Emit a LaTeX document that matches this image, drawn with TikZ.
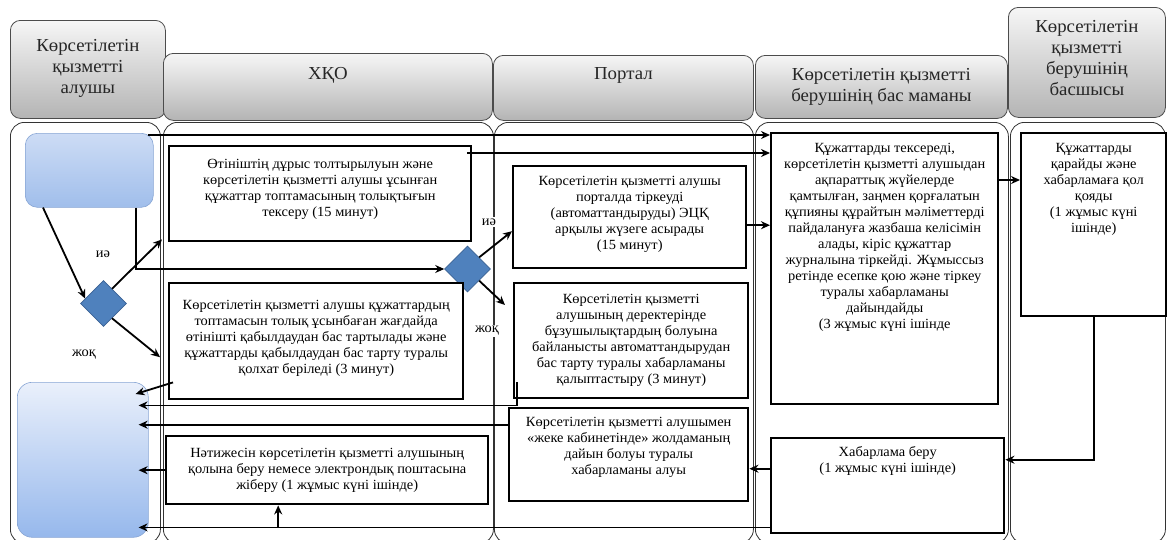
\documentclass[tikz,border=0pt]{standalone}
\usepackage{fontspec}
\setmainfont{Liberation Serif}[FakeStretch=1.03]
\newfontfamily\kzfont{Liberation Serif}[FakeStretch=1.03]
\usetikzlibrary{shapes.geometric,arrows.meta}
\definecolor{usrtop}{RGB}{205,220,245}
\definecolor{usrbot}{RGB}{160,190,235}
\definecolor{outtop}{RGB}{234,240,251}
\definecolor{outbot}{RGB}{150,184,236}
\definecolor{usredge}{RGB}{135,165,212}
\definecolor{qfill}{RGB}{79,129,189}
\definecolor{qedge}{RGB}{58,98,148}
\definecolor{hdrtop}{RGB}{246,246,246}
\definecolor{hdrbot}{RGB}{180,180,180}
\newcommand{\bodyfont}{\kzfont\fontsize{14pt}{16pt}\selectfont}
\newcommand{\hdrfont}{\kzfont\fontsize{18.3pt}{21pt}\selectfont}

\begin{document}
\begin{tikzpicture}[
      x=1pt, y=-1pt,
      lane/.style={draw=black!80, line width=0.8pt, rounded corners=14pt, anchor=north west, inner sep=0pt},
      hdr/.style={draw=black!70, line width=0.8pt, rounded corners=10pt, top color=hdrtop, bottom color=hdrbot, anchor=north west, inner sep=0pt},
      box/.style={draw=black, line width=2.4pt, fill=white, anchor=north west, inner sep=0pt},
      usr/.style={draw=usredge, line width=0.6pt, rounded corners=12pt, anchor=north west, inner sep=0pt},
      decision/.style={diamond, draw=qedge, line width=0.6pt, fill=qfill, minimum width=46pt, minimum height=46pt, inner sep=0pt},
      note/.style={font=\bodyfont, align=center, inner sep=0pt},
      hnote/.style={font=\hdrfont, align=center, inner sep=0pt, text=black!85},
      yn/.style={font=\bodyfont, fill=white, inner sep=1.5pt},
      arrow/.style={-{Stealth[length=9pt,width=8pt]}, line width=1.8pt},
      into/.style={shorten >=-10pt}
    ]
      \useasboundingbox (0,0) rectangle (1167,539);

      % Swimlanes
      \node[lane, minimum width=150pt, minimum height=421pt] (ln1) at (10,122) {};
      \node[lane, minimum width=330pt, minimum height=421pt] (ln2) at (163,122) {};
      \node[lane, minimum width=259pt, minimum height=421pt] (ln3) at (494,122) {};
      \node[lane, minimum width=253pt, minimum height=421pt] (ln4) at (755,122) {};
      \node[lane, minimum width=155pt, minimum height=421pt] (ln5) at (1010,122) {};

      % Lane headers
      \node[hdr, minimum width=155pt, minimum height=98pt] (h1) at (10,20) {};
      \node[hnote] (h1-t) at ([yshift=1pt]h1.center) {Көрсетілетін\\қызметті\\алушы};
      \node[hdr, minimum width=329pt, minimum height=67pt] (h2) at (163,53) {};
      \node[hnote] (h2-t) at ([yshift=11.5pt]h2.center) {ХҚО};
      \node[hdr, minimum width=260pt, minimum height=65pt] (h3) at (493,55) {};
      \node[hnote] (h3-t) at ([yshift=12.5pt]h3.center) {Портал};
      \node[hdr, minimum width=252pt, minimum height=63pt] (h4) at (755,55) {};
      \node[hnote] (h4-t) at ([yshift=0pt]h4.center) {Көрсетілетін қызметті\\берушінің бас маманы};
      \node[hdr, minimum width=157pt, minimum height=110pt] (h5) at (1008,7) {};
      \node[hnote] (h5-t) at ([yshift=4pt]h5.center) {Көрсетілетін\\қызметті\\берушінің\\басшысы};

      % Service receiver
      \node[usr, top color=usrtop, bottom color=usrbot, minimum width=128pt, minimum height=74pt] (app) at (25,133) {};
      \node[usr, rounded corners=15pt, top color=outtop, bottom color=outbot, minimum width=131pt, minimum height=155pt] (out) at (17,382) {};
      \node[decision] (q1) at (103.5,303.5) {};
      \node[decision] (q2) at (467.5,269) {};

      % ХҚО
      \node[box, minimum width=302pt, minimum height=95pt] (chk) at (168,145) {};
      \node[note] (chk-t) at ([yshift=4.5pt]chk.center) {Өтініштің дұрыс толтырылуын және\\көрсетілетін қызметті алушы ұсынған\\құжаттар топтамасының  толықтығын\\тексеру (15 минут)};
      \node[box, minimum width=294pt, minimum height=116pt] (rej) at (168,282) {};
      \node[note] (rej-t) at ([yshift=3pt]rej.center) {Көрсетілетін қызметті алушы құжаттардың\\топтамасын толық ұсынбаған жағдайда\\өтінішті қабылдаудан бас тартылады және\\құжаттарды қабылдаудан бас тарту туралы\\қолхат беріледі (3 минут)};
      \node[box, minimum width=322pt, minimum height=68pt] (res) at (165,435) {};
      \node[note] (res-t) at (res.center) {Нәтижесін көрсетілетін қызметті алушының\\қолына беру немесе электрондық поштасына\\жіберу (1 жұмыс күні ішінде)};

      % Портал
      \node[box, minimum width=233pt, minimum height=102pt] (reg) at (512,165) {};
      \node[note] (reg-t) at ([yshift=3pt]reg.center) {Көрсетілетін қызметті  алушы\\порталда тіркеуді\\(автоматтандыруды) ЭЦҚ\\арқылы жүзеге асырады\\(15  минут)};
      \node[box, minimum width=234pt, minimum height=115pt] (err) at (513,282) {};
      \node[note] (err-t) at (err.center) {Көрсетілетін  қызметті\\алушының деректерінде\\бұзушылықтардың  болуына\\байланысты автоматтандырудан\\бас  тарту туралы хабарламаны\\қалыптастыру  (3 минут)};
      \node[box, minimum width=239pt, minimum height=93pt] (ntf) at (508,407) {};
      \node[note] (ntf-t) at ([yshift=7pt]ntf.center) {Көрсетілетін қызметті алушымен\\«жеке кабинетінде» жолдаманың\\дайын болуы туралы\\хабарламаны алуы};

      % Бас маман
      \node[box, minimum width=227pt, minimum height=271pt] (spec) at (770,132) {};
      \node[note] (spec-t) at ([yshift=31.5pt]spec.center) {Құжаттарды тексереді,\\көрсетілетін қызметті алушыдан\\ақпараттық жүйелерде\\қамтылған, заңмен қорғалатын\\құпияны құрайтын мәліметтерді\\пайдалануға жазбаша келісімін\\алады, кіріс құжаттар\\журналына тіркейді.  Жұмыссыз\\ретінде есепке қою және тіркеу\\туралы  хабарламаны\\дайындайды\\(3 жұмыс күні ішінде};
      \node[box, minimum width=233pt, minimum height=95pt] (msg) at (770,437) {};
      \node[note] (msg-t) at ([yshift=24.5pt]msg.center) {Хабарлама беру\\(1 жұмыс күні ішінде)};

      % Басшы
      \node[box, minimum width=145pt, minimum height=183pt] (head) at (1020,132) {};
      \node[note] (head-t) at ([yshift=35.5pt]head.center) {Құжаттарды\\қарайды  және\\хабарламаға  қол\\қояды\\(1 жұмыс күні\\ішінде)};

      % Decision labels
      \node[yn] (q1-yes) at (103,254) {иә};
      \node[yn] (q1-no) at (84,355) {жоқ};
      \node[yn] (q2-yes) at (489,222) {иә};
      \node[yn] (q2-no) at (487,331) {жоқ};

      % Flow into the specialist
      \coordinate (t1) at ([xshift=-6pt,yshift=-2pt]app.north east);
      \draw[arrow] (t1) -- (t1 -| spec.west);
      \coordinate (t2) at ([xshift=-5pt,yshift=-8pt]chk.north east);
      \draw[arrow] (t2) -- (t2 -| spec.west);
      \coordinate (t3) at ([yshift=-8pt]reg.east);
      \draw[arrow] (t3) -- (t3 -| spec.west);
      \coordinate (t4) at ([yshift=-48pt]spec.north east);
      \draw[arrow] (t4) -- (t4 -| head.west);
      \draw[arrow] (head.south) |- ([yshift=26pt]msg.east);
      \coordinate (t6) at ([yshift=17pt]msg.west);
      \draw[arrow] (t6) -- (t6 -| ntf.east);

      % Returns to the receiver
      \coordinate (t7) at ([yshift=7pt]msg.south west);
      \draw[arrow, into] (t7) -- (t7 -| out.east);
      \coordinate (t7u) at ([xshift=-49pt]res.south);
      \draw[arrow] (t7u |- t7) -- (t7u);
      \coordinate (t8) at ([yshift=30pt]ntf.west);
      \draw[arrow, into] (t8) -- (t8 -| out.east);
      \coordinate (t9) at ([xshift=4pt,yshift=17pt]err.south west);
      \coordinate (t9b) at ([xshift=4pt,yshift=-6pt]err.south west);
      \draw[arrow, into] (t9) -- (t9b) -- (t9b -| out.east);
      \draw[arrow] ([xshift=5pt,yshift=18pt]rej.south west) -- ([xshift=-13pt,yshift=-12pt]out.north east);
      \draw[arrow, into] (res.west) -- (res.west -| out.east);

      % Decisions
      \draw[arrow] ([xshift=18pt]app.south west) -- (q1.165);
      \draw[arrow] (q1.60) -- ([xshift=-6pt,yshift=3pt]chk.south west);
      \draw[arrow] (q1.-60) -- ([xshift=-8pt,yshift=-16pt]rej.west);
      \draw[arrow] ([xshift=-18pt]app.south east) |- (q2.west);
      \draw[arrow] (q2.45) -- ([yshift=-14pt]reg.west);
      \draw[arrow] (q2.-45) -- ([xshift=-8pt,yshift=-23pt]err.north west);
    \end{tikzpicture}
\end{document}
